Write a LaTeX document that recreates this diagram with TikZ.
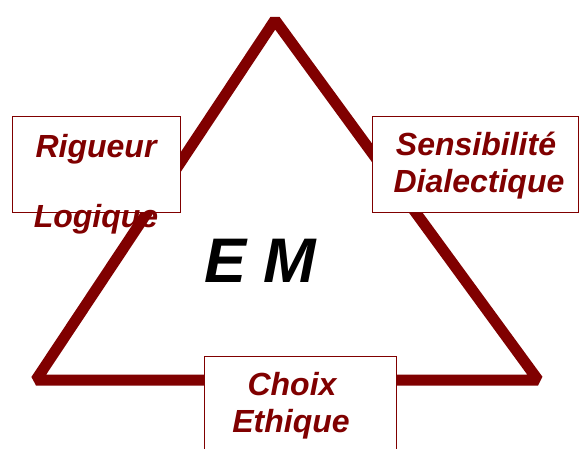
\documentclass[tikz,border=0pt]{standalone}
\usepackage{fontspec}
\setmainfont{Liberation Sans}
\definecolor{tri}{HTML}{800000}
\begin{document}
\begin{tikzpicture}[x=1pt,y=-1pt,
  lbl/.style={anchor=base,inner sep=0pt,text=tri,font=\fontsize{32}{37}\selectfont\bfseries\itshape},
  boxed/.style={draw=tri,line width=1.5pt,fill=white,inner sep=0pt,anchor=north west},
  side/.style={draw=tri,line width=11pt,line join=bevel}]
\useasboundingbox (0,0) rectangle (579,448);
\clip (0,0) rectangle (579,448);
\coordinate (A) at (275,20);
\coordinate (B) at (36,380);
\coordinate (C) at (538,380);
\draw[side] (A) -- (B) -- (C) -- cycle;
\node[boxed,minimum width=168pt,minimum height=96pt] (lbox) at (11.5,115.5) {};
\node[boxed,minimum width=206pt,minimum height=96pt] (rbox) at (371.5,115.5) {};
\node[boxed,minimum width=192pt,minimum height=110pt] (bbox) at (203.5,355.5) {};
\node[lbl] (rig) at (96,157) {Rigueur};
\node[lbl] (log) at (96,227) {Logique};
\node[lbl] (sen) at (476,155) {Sensibilité};
\node[lbl] (dia) at (479,192) {Dialectique};
\node[lbl] (cho) at (292,395) {Choix};
\node[lbl] (eth) at (291,432) {Ethique};
\node[anchor=base,inner sep=0pt,font=\fontsize{63}{70}\selectfont\bfseries\itshape] (em) at (260,282) {E M};
\end{tikzpicture}
\end{document}
